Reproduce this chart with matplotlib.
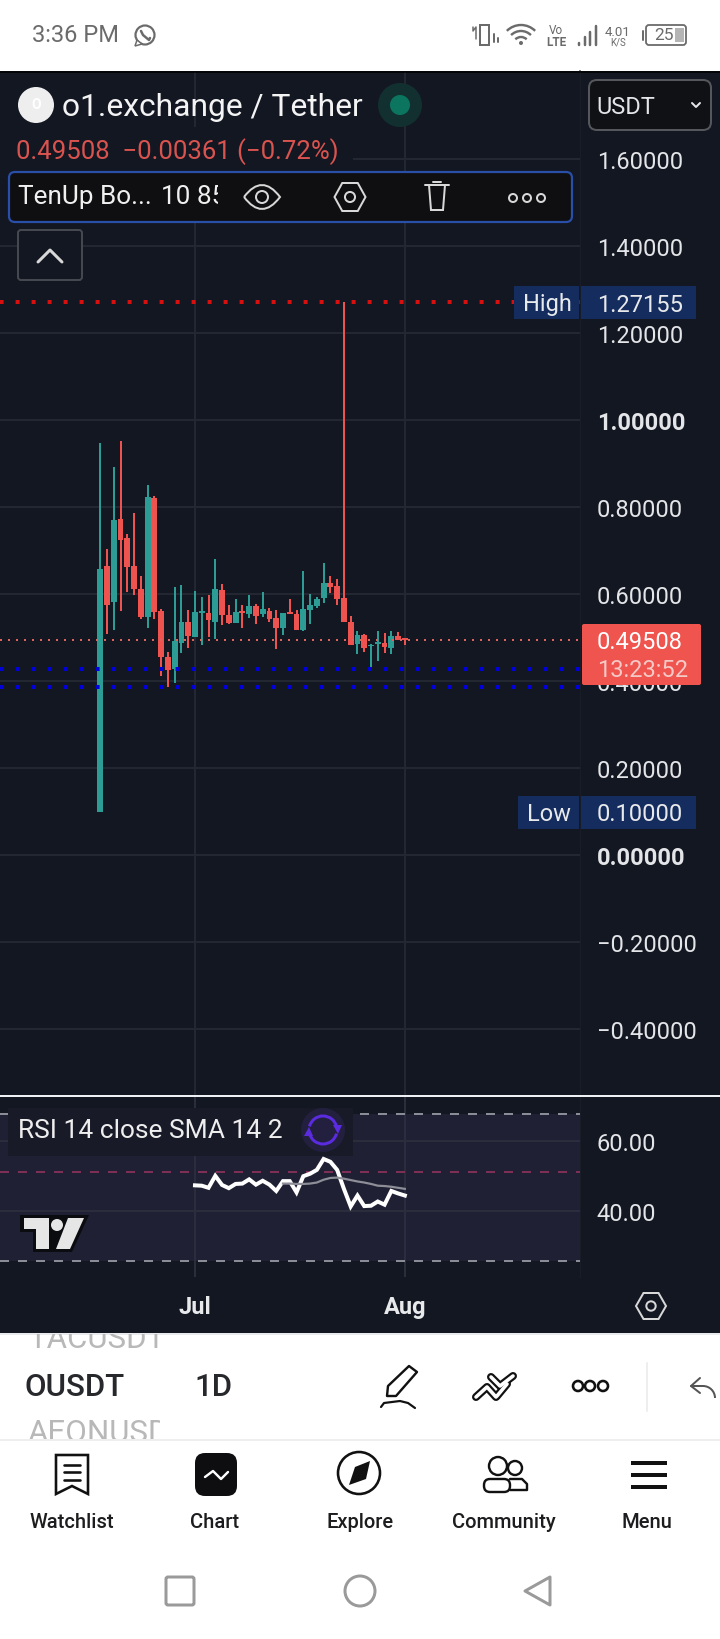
import numpy as np
import matplotlib
matplotlib.use('Agg')
import matplotlib.pyplot as plt
from matplotlib.patches import Rectangle, Circle, Ellipse, Polygon, FancyBboxPatch, Arc, PathPatch
from matplotlib.path import Path

plt.rcParams['font.family'] = ['Roboto', 'DejaVu Sans']

# daily candles, first one is 14 days before Jul 1
opens = [.100,.664,.582,.772,.729,.664,.611,.547,.821,.561,.455,.428,.487,.536,.501,.556,
         .556,.536,.609,.552,.533,.561,.554,.572,.554,.561,.545,.522,.559,.554,.517,.563,
         .572,.591,.625,.618,.591,.535,.485,.506,.480,.485,.487,.476,.503,.499]
highs = [.947,.703,.892,.952,.738,.786,.641,.851,.825,.565,.467,.616,.621,.563,.607,.593,
         .598,.680,.623,.575,.588,.575,.598,.577,.605,.568,.563,.556,.588,.563,.653,.600,
         .593,.671,.641,.634,1.2715,.549,.515,.508,.485,.515,.510,.515,.513,.499]
lows = [.100,.508,.517,.561,.605,.598,.543,.522,.543,.411,.386,.395,.464,.476,.501,.483,
        .501,.497,.529,.531,.533,.522,.545,.531,.547,.535,.474,.506,.554,.517,.515,.531,
        .568,.579,.602,.575,.535,.483,.462,.467,.432,.446,.464,.462,.494,.483]
closes = [.657,.575,.770,.724,.662,.611,.547,.823,.559,.455,.425,.492,.536,.503,.559,.561,
          .540,.611,.552,.533,.559,.556,.572,.549,.565,.542,.522,.556,.554,.517,.565,.575,
          .588,.625,.616,.588,.535,.483,.506,.476,.483,.490,.478,.503,.494,.4951]

rsi_days = list(range(14, 46))
rsi = [47.3,47.2,46.6,50.0,47.4,46.5,47.7,47.8,49.0,47.5,48.6,47.5,45.7,48.5,48.5,45.3,
       49.9,50.6,51.7,54.8,54.0,51.7,46.3,41.3,44.4,41.4,41.5,42.7,41.8,45.7,45.0,44.4]
sma_days = list(range(27, 46))
sma = [47.8,47.8,47.7,47.7,47.8,48.1,48.9,49.4,49.5,49.2,48.8,48.4,48.1,47.7,47.2,47.1,46.9,46.6,46.3]

price_ticks = [-0.4, -0.2, 0.0, 0.2, 0.4, 0.6, 0.8, 1.0, 1.2, 1.4, 1.6]
rsi_ticks = [40, 60]
rsi_levels = [67.6, 51.2, 25.7]
month_days = [14, 45]
month_labels = ['Jul', 'Aug']
last_price = 0.49508
high_price = 1.27155
low_price = 0.10
blue_levels = [0.4276, 0.387]
nav_labels = ['Watchlist', 'Chart', 'Explore', 'Community', 'Menu']

BG = '#131722'
TEAL = '#2c9c94'
RED = '#ee5350'
GRID = '#232731'
TAG = '#142c5e'
W, H = 720, 1640
DAY = 6.77
X0 = 100.2


def pts(p):
    return p * 0.72


fig = plt.figure(figsize=(7.2, 16.4), dpi=100, facecolor='white')


def px_axes(x0, y0, x1, y1, z):
    return fig.add_axes([x0 / W, 1 - y1 / H, (x1 - x0) / W, (y1 - y0) / H], zorder=z)


back = px_axes(0, 0, W, H, 0)
back.set_xlim(0, W)
back.set_ylim(H, 0)
back.axis('off')
back.add_patch(Rectangle((0, 72), W, 1262, fc=BG, ec='none'))
back.plot([580, 580], [72, 1278], color='#1c202b', lw=pts(1.5))

# main pane
ax = px_axes(0, 73, 580, 1096, 1)
ax.set_facecolor(BG)
ax.set_xlim(-X0 / DAY, (580 - X0) / DAY)
ax.set_ylim((856 - 1096) / 435, (856 - 73) / 435)
for s in ax.spines.values():
    s.set_visible(False)
ax.yaxis.tick_right()
ax.set_yticks(price_ticks)
ax.set_yticklabels(['\u2212%.5f' % abs(p) if p < 0 else '%.5f' % p for p in price_ticks])
ax.tick_params(axis='y', length=0, pad=12, labelsize=17, labelcolor='#e4e5e8')
for lab, p in zip(ax.get_yticklabels(), price_ticks):
    if p in (0.0, 1.0):
        lab.set_fontweight('bold')
ax.set_xticks(month_days)
ax.tick_params(axis='x', length=0, labelbottom=False)
ax.grid(True, color=GRID, lw=pts(2))
ax.set_axisbelow(True)

days = np.arange(len(opens))
colors = [TEAL if c >= o else RED for o, c in zip(opens, closes)]
ax.vlines(days, lows, highs, colors=colors, lw=pts(2), zorder=2)
body = [max(abs(c - o), 0.003) for o, c in zip(opens, closes)]
ax.bar(days, body, bottom=np.minimum(opens, closes), width=0.86, color=colors, lw=0, zorder=3)

ax.axhline(last_price, color='#d9655c', lw=pts(2), ls=(0, (1, 3)), zorder=4)
for lev in blue_levels:
    ax.axhline(lev, color='#0000d8', lw=pts(4), ls=(0.1, (1, 3)), zorder=5)
ax.axhline(high_price, color='#d80f0f', lw=pts(4), ls=(0.1, (1, 3)), zorder=5)

# rsi pane
ax2 = px_axes(0, 1098, 580, 1278, 1)
ax2.set_facecolor(BG)
ax2.set_xlim(-X0 / DAY, (580 - X0) / DAY)
ax2.set_ylim(40 + (1212 - 1278) / 3.515, 40 + (1212 - 1098) / 3.515)
for s in ax2.spines.values():
    s.set_visible(False)
ax2.yaxis.tick_right()
ax2.set_yticks(rsi_ticks)
ax2.set_yticklabels(['%.2f' % v for v in rsi_ticks])
ax2.tick_params(axis='y', length=0, pad=12, labelsize=17, labelcolor='#e4e5e8')
ax2.set_xticks(month_days)
ax2.set_xticklabels(month_labels)
ax2.tick_params(axis='x', length=0, pad=13, labelsize=17, labelcolor='#e8e9eb')
for lab in ax2.get_xticklabels():
    lab.set_fontweight('bold')
ax2.grid(True, color='#2c2d3c', lw=pts(2))
ax2.set_axisbelow(True)
ax2.axhspan(rsi_levels[2], rsi_levels[0], color='#1f2033', lw=0, zorder=0)
ax2.axhline(rsi_levels[0], color='#8a8c96', lw=pts(2), ls=(0, (4.5, 4.5)))
ax2.axhline(rsi_levels[2], color='#8a8c96', lw=pts(2), ls=(0, (4.5, 4.5)))
ax2.axhline(rsi_levels[1], color='#7d2f55', lw=pts(2), ls=(0, (4.5, 4.5)))
ax2.plot(rsi_days, rsi, color='white', lw=pts(4), solid_joinstyle='miter', zorder=4)
ax2.plot(sma_days, sma, color='#8d8e97', lw=pts(2.2), zorder=5)

# everything else on the screen sits on this layer
ui = px_axes(0, 0, W, H, 5)
ui.set_xlim(0, W)
ui.set_ylim(H, 0)
ui.axis('off')
ui.patch.set_alpha(0)


def text(x, y, s, size=17, color='white', ha='left', weight='normal', **kw):
    return ui.text(x, y, s, fontsize=size, color=color, ha=ha, va='center', fontweight=weight, **kw)


def clipped(x, y, s, x0, y0, x1, y1, **kw):
    t = text(x, y, s, **kw)
    t.set_clip_path(Rectangle((x0, y0), x1 - x0, y1 - y0, transform=ui.transData))
    t.set_clip_on(True)
    return t


def box(x0, y0, x1, y1, fc, ec='none', lw=2, r=4):
    p = FancyBboxPatch((x0 + r, y0 + r), x1 - x0 - 2 * r, y1 - y0 - 2 * r,
                       boxstyle='round,pad=%d,rounding_size=%d' % (r, r), fc=fc, ec=ec, lw=pts(lw))
    ui.add_patch(p)
    return p


def line(xs, ys, color='black', lw=2, **kw):
    ui.plot(xs, ys, color=color, lw=pts(lw), solid_capstyle='round', **kw)


def hexagon(cx, cy, rx, ry, color, lw=2):
    pp = [(cx - rx, cy), (cx - rx / 2, cy - ry), (cx + rx / 2, cy - ry), (cx + rx, cy),
          (cx + rx / 2, cy + ry), (cx - rx / 2, cy + ry)]
    ui.add_patch(Polygon(pp, closed=True, fc='none', ec=color, lw=pts(lw)))
    ui.add_patch(Circle((cx, cy), ry * 0.36, fc='none', ec=color, lw=pts(lw)))


# status bar
GR = '#6b6b6b'
text(32, 36, '3:36 PM', size=17, color=GR)
ui.add_patch(Circle((145, 36), 9.5, fc='none', ec=GR, lw=pts(2.2)))
ui.add_patch(Polygon([(137, 41), (135, 47), (142, 45)], fc='white', ec=GR, lw=pts(1.5)))
line([141, 143, 149, 150], [32, 36, 41, 39], GR, 2.5)
ui.add_patch(Rectangle((480, 26), 9, 20, fc='none', ec=GR, lw=pts(2)))
line([473, 473, 476, 476], [28, 32, 28, 40], GR, 1.5)
line([494, 494], [35, 43], GR, 2)
line([498, 498], [39, 43], GR, 2)
for rad in (8, 14, 20):
    ui.add_patch(Arc((521, 46), rad * 2, rad * 2, theta1=225, theta2=315, ec=GR, lw=pts(2.4)))
ui.add_patch(Circle((521, 44), 2, fc=GR, ec='none'))
text(556, 31, 'Vo', size=8.5, color=GR, ha='center')
text(556, 42, 'LTE', size=8.5, color=GR, ha='center', weight='bold')
for i, top in enumerate([44, 38, 33, 27]):
    line([579 + i * 5.5] * 2, [top, 46], GR, 2.5)
text(618, 32, '4.01', size=9.5, color=GR, ha='center')
text(618, 43, 'K/S', size=7, color=GR, ha='center')
box(646, 26, 686, 46, 'white', ec=GR, lw=1.8, r=3)
ui.add_patch(Rectangle((675, 29), 9, 14, fc='#b5b5b5', ec='none'))
line([643, 643], [32, 41], GR, 2)
text(664, 36, '25', size=12.5, color=GR, ha='center')
ui.plot([0, W], [72.5, 72.5], color='#000000', lw=pts(1.5))

# header
ui.add_patch(Rectangle((0, 128), 353, 44, fc=BG, ec='none'))
ui.add_patch(Circle((36, 106), 18, fc='#eeeeee', ec='none'))
text(36, 105, 'O', size=10, color='white', ha='center', weight='bold')
text(62, 108, 'o1.exchange / Tether', size=22.9, color='#f4f4f5')
ui.add_patch(Circle((400, 106), 22, fc='#12302f', ec='none'))
ui.add_patch(Circle((400, 106), 10, fc='#0b7560', ec='none'))
box(589, 81, 711, 131, '#101114', ec='#55575c', lw=2, r=8)
text(596, 107, 'USDT', size=17, color='#e4e5e8')
line([692, 696, 700], [104, 108, 104], '#e4e5e8', 2)
text(16, 152, '0.49508  \u22120.00361 (\u22120.72%)', size=18.5, color='#d9534f')

# legend of the bollinger study
box(9, 173, 572, 223, '#0f0f11', ec='#2a4fa8', lw=2.2, r=6)
text(18, 197, 'TenUp Bo...', size=18.8, color='#f0f0f0')
clipped(161, 197, '10 85', 9, 173, 218, 223, size=18.8, color='#f0f0f0')
eye = Path([(244, 198), (262, 174), (280, 198), (262, 222), (244, 198)],
           [Path.MOVETO, Path.CURVE3, Path.CURVE3, Path.CURVE3, Path.CURVE3])
ui.add_patch(PathPatch(eye, fc='none', ec='#d8d8d8', lw=pts(2)))
ui.add_patch(Circle((262, 198), 6, fc='none', ec='#d8d8d8', lw=pts(2)))
hexagon(350, 198, 15.5, 14, '#d8d8d8')
ui.add_patch(Polygon([(429, 186), (445, 186), (443, 211), (431, 211)], closed=True, fc='none',
                     ec='#d8d8d8', lw=pts(2)))
line([425, 449], [186, 186], '#d8d8d8', 2)
line([433, 441], [183, 183], '#d8d8d8', 2)
for cx in (513, 527, 541):
    ui.add_patch(Circle((cx, 199), 4, fc='none', ec='#d8d8d8', lw=pts(2)))
box(18, 231, 82, 281, BG, ec='#45484f', lw=2, r=3)
line([38, 50, 62], [263, 251, 263], '#d8d8d8', 3)

# price tags
ui.add_patch(Rectangle((514, 287), 65, 33, fc=TAG, ec='none'))
ui.add_patch(Rectangle((581, 287), 115, 33, fc=TAG, ec='none'))
text(547, 305, 'High', size=17, color='#e8e9eb', ha='center')
text(597, 305, '%.5f' % high_price, size=17, color='#e8e9eb')
ui.add_patch(Rectangle((518, 797), 61, 33, fc=TAG, ec='none'))
ui.add_patch(Rectangle((581, 797), 115, 33, fc=TAG, ec='none'))
text(549, 815, 'Low', size=17, color='#e8e9eb', ha='center')
text(597, 815, '%.5f' % low_price, size=17, color='#e8e9eb')
box(582, 625, 701, 686, '#f0544f', r=2)
text(597, 643, '%.5f' % last_price, size=17, color='white')
text(597, 671, '13:23:52', size=17, color='#f5c9c6')

# separators and rsi legend
ui.plot([0, W], [1096.5, 1096.5], color='#eef0f3', lw=pts(2))
ui.add_patch(Rectangle((8, 1109), 345, 48, fc='#181a28', ec='none'))
text(18, 1131, 'RSI 14 close SMA 14 2', size=19, color='#eeeeee')
ui.add_patch(Ellipse((323, 1131), 44, 44, fc='#231f3f', ec='none'))
ui.add_patch(Arc((323, 1131), 28, 28, theta1=195, theta2=345, ec='#5b2be0', lw=pts(3)))
ui.add_patch(Arc((323, 1131), 28, 28, theta1=15, theta2=165, ec='#5b2be0', lw=pts(3)))
ui.add_patch(Polygon([(333, 1126), (342, 1126), (338, 1135)], fc='#5b2be0', ec='none'))
ui.add_patch(Polygon([(304, 1137), (313, 1137), (309, 1128)], fc='#5b2be0', ec='none'))
ui.add_patch(Polygon([(20, 1216), (89, 1216), (72, 1253), (33, 1253), (33, 1233), (20, 1233)],
                     fc='#0b0c10', ec='none'))
ui.add_patch(Polygon([(24, 1219), (49, 1219), (49, 1250), (36, 1250), (36, 1230), (24, 1230)],
                     fc='#e6e6e6', ec='none'))
ui.add_patch(Circle((57, 1226), 6, fc='#e6e6e6', ec='none'))
ui.add_patch(Polygon([(68, 1219), (84, 1219), (70, 1250), (56, 1250)], fc='#e6e6e6', ec='none'))
hexagon(651, 1307, 15, 13, '#d8d8d8')

# tool strip
ui.plot([0, W], [1334.5, 1334.5], color='#e8eaee', lw=pts(2))
clipped(28, 1340, 'TACUSDT', 0, 1335, 160, 1353, size=22.5, color='#b8b8b8')
clipped(28, 1434, 'AEONUSDT', 0, 1420, 160, 1440, size=22.5, color='#b8b8b8')
text(25, 1388, 'OUSDT', size=22.5, color='#26282c', weight='medium')
text(194, 1388, '1D', size=22.5, color='#26282c', weight='medium')
ui.add_patch(Polygon([(388, 1387), (409, 1367), (417, 1373), (396, 1397), (387, 1397)], closed=True,
                     fc='none', ec='#111111', lw=pts(2.4), joinstyle='round'))
line([381, 384, 392, 400, 408, 415], [1408, 1404, 1403, 1402, 1404, 1409], '#111111', 2.2)
# template icon is a black stroke with a white core
for col, wid in (('#111111', 8), ('white', 3.6)):
    line([476, 487, 496], [1398, 1388, 1398], col, wid)
    line([491, 500, 513], [1378, 1387, 1377], col, wid)
    line([497, 507], [1397, 1385], col, wid)
for cx in (578, 590, 603):
    ui.add_patch(Circle((cx, 1387), 5, fc='none', ec='#111111', lw=pts(2.6)))
line([647, 647], [1364, 1412], '#eeeeee', 2)
line([700, 691, 700], [1379, 1387, 1394], '#555555', 2)
line([691, 703], [1387, 1387], '#555555', 2)
ui.add_patch(Arc((703, 1399), 24, 24, theta1=270, theta2=360, ec='#555555', lw=pts(2)))
ui.plot([0, W], [1441, 1441], color='#eeeeee', lw=pts(2))

# bottom navigation
nav_x = [72, 215, 360, 504, 647]
for x, lab in zip(nav_x, nav_labels):
    text(x, 1523, lab, size=14.5, color='#1d1d1f', ha='center', weight='medium')
ui.add_patch(Polygon([(56, 1456), (88, 1456), (88, 1495), (72, 1487), (56, 1495)], closed=True,
                     fc='none', ec='#111111', lw=pts(2.6)))
for y in (1466, 1473, 1481):
    line([64, 80], [y, y], '#111111', 2.6)
box(195, 1454, 237, 1497, '#0e0e10', r=10)
line([205, 213, 221, 228], [1478, 1472, 1480, 1473], 'white', 2.4)
ui.add_patch(Ellipse((359, 1474), 42, 42, fc='none', ec='#111111', lw=pts(2.6)))
ui.add_patch(Polygon([(370, 1462), (366, 1480), (349, 1486), (355, 1468)], fc='#111111', ec='none'))
ui.add_patch(Circle((498, 1467), 9, fc='none', ec='#111111', lw=pts(2.4)))
ui.add_patch(Circle((515, 1469), 7, fc='none', ec='#111111', lw=pts(2.4)))
line([510, 522, 527, 527, 510], [1480, 1480, 1485, 1491, 1491], '#111111', 2.4)
box(484, 1480, 510, 1493, 'white', ec='#111111', lw=2.4, r=6)
for y in (1464, 1476, 1488):
    ui.add_patch(Rectangle((631, y - 2), 36, 4, fc='#111111', ec='none'))

# phone keys
box(166, 1578, 194, 1606, 'white', ec='#9a9a9a', lw=3, r=2)
ui.add_patch(Circle((360, 1592), 15, fc='none', ec='#9a9a9a', lw=pts(3)))
ui.add_patch(Polygon([(550, 1578), (550, 1606), (525, 1592)], closed=True, fc='none', ec='#9a9a9a',
                     lw=pts(3), joinstyle='round'))

fig.savefig('out.png', dpi=100, facecolor='white')
